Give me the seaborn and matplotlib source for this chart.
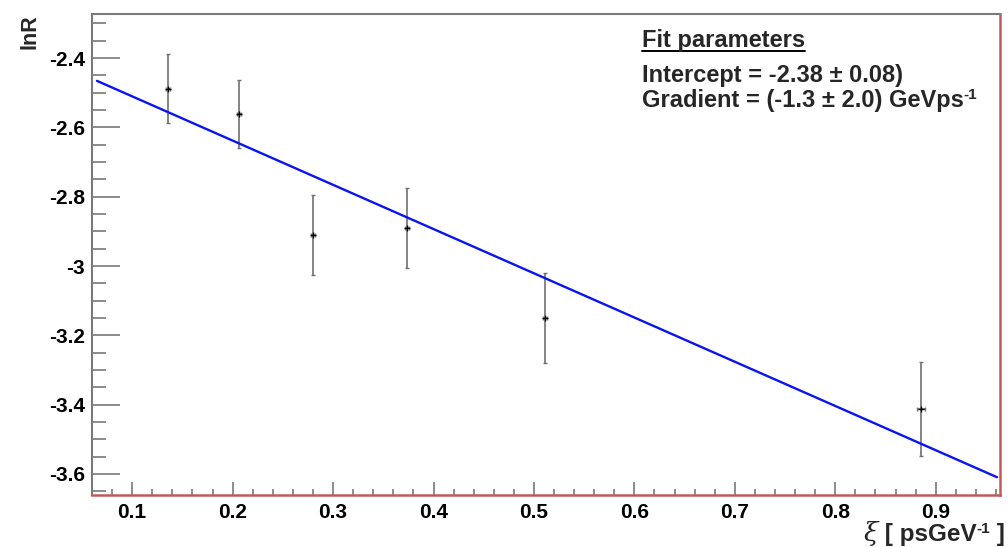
import numpy as np
import pandas as pd
import matplotlib
matplotlib.use("Agg")
import matplotlib.pyplot as plt
from matplotlib.ticker import MultipleLocator
from matplotlib.lines import Line2D
import seaborn as sns

# Measured points: xi [ps/GeV] and ln R with their uncertainties
xi = [0.136, 0.206, 0.280, 0.374, 0.511, 0.885]
ln_r = [-2.488, -2.562, -2.911, -2.890, -3.150, -3.412]
ln_r_err = [0.099, 0.098, 0.116, 0.116, 0.130, 0.136]
xi_err = [0.002, 0.002, 0.002, 0.002, 0.002, 0.004]

# Straight-line fit results
intercept, intercept_err = -2.383, 0.08
gradient, gradient_err = -1.276, 2.0
fit_range = (0.065, 0.961)

x_ticks = [0.1, 0.2, 0.3, 0.4, 0.5, 0.6, 0.7, 0.8, 0.9]
y_ticks = [-3.6, -3.4, -3.2, -3.0, -2.8, -2.6, -2.4]

W, H = 1008, 547

sns.set_theme(style="white")
plt.rcParams["font.family"] = ["Liberation Sans", "DejaVu Sans"]
plt.rcParams["font.weight"] = "bold"

fig = plt.figure(figsize=(W / 100, H / 100), dpi=100)
ax = fig.add_axes([92 / W, 1 - 495 / H, 908 / W, 481 / H])

data = pd.DataFrame({"xi": xi, "lnR": ln_r})
fit_x = np.linspace(fit_range[0], fit_range[1], 200)
fit = pd.DataFrame({"xi": fit_x, "lnR": intercept + gradient * fit_x})

ax.errorbar(xi, ln_r, yerr=ln_r_err, xerr=xi_err, fmt="none",
            ecolor="#707070", elinewidth=1.2, capsize=1.5, capthick=1.0, zorder=2)
sns.scatterplot(data=data, x="xi", y="lnR", marker="+", color="black",
                s=25, linewidth=1.0, ax=ax, zorder=3)
sns.lineplot(data=fit, x="xi", y="lnR", color="#0a14f0", linewidth=1.7,
             ax=ax, zorder=4)

ax.set_xlim(0.06, 0.964)
ax.set_ylim(-3.6606, -2.273)

ax.set_xticks(x_ticks)
ax.set_xticklabels([f"{v:g}" for v in x_ticks])
ax.set_yticks(y_ticks)
ax.set_yticklabels([f"{v:g}" for v in y_ticks])
ax.xaxis.set_minor_locator(MultipleLocator(0.02))
ax.yaxis.set_minor_locator(MultipleLocator(0.05))

ax.tick_params(axis="both", which="both", direction="in", color="#8c8c8c",
               width=1.4, labelsize=15, labelcolor="black")
ax.tick_params(axis="x", which="major", length=9.5, pad=6)
ax.tick_params(axis="x", which="minor", length=4.5)
ax.tick_params(axis="y", which="major", length=20, pad=5)
ax.tick_params(axis="y", which="minor", length=10)
ax.tick_params(bottom=True, left=True, top=False, right=False, which="both")
for lbl in ax.get_xticklabels() + ax.get_yticklabels():
    lbl.set_fontweight("bold")

for side in ["left", "top"]:
    ax.spines[side].set_color("#7a7a7a")
    ax.spines[side].set_linewidth(1.5)
for side in ["bottom", "right"]:
    ax.spines[side].set_color("#c05a5a")
    ax.spines[side].set_linewidth(1.8)

ax.set_xlabel("")
ax.set_ylabel("")

renderer = fig.canvas.get_renderer()


def text_run(pieces, x_px, y_px, align="left"):
    """Lay out text pieces side by side on one baseline (pixel coords from top-left)."""
    made = []
    x = x_px
    for s, kw, dy in pieces:
        t = fig.text(x / W, (H - y_px + dy) / H, s, ha="left", va="baseline", **kw)
        x += t.get_window_extent(renderer).width
        made.append(t)
    if align == "right":
        shift = x - x_px
        for t in made:
            t.set_x(t.get_position()[0] - shift / W)
    return made


fig.text(30 / W, 1 - 14 / H, "lnR", rotation=90, ha="center", va="top",
         fontsize=15.5, fontweight="bold")

base = dict(fontsize=17.5, fontweight="bold")
sup = dict(fontsize=11, fontweight="bold")
greek = dict(fontsize=19, family=["DejaVu Serif"], style="italic", fontweight="normal")
text_run([("\u03be", greek, 0), (" [ psGeV", base, 0), ("-1", sup, 8), (" ]", base, 0)],
         1005, 541, align="right")

fs = 17
fit_kw = dict(fontsize=fs, fontweight="bold")
title = fig.text(642 / W, 1 - 47 / H, "Fit parameters", ha="left",
                 va="baseline", **fit_kw)
text_run([(f"Intercept = {intercept:.2f} \u00b1 {intercept_err:.2f})", fit_kw, 0)],
         642, 82)
text_run([(f"Gradient = ({gradient:.1f} \u00b1 {gradient_err:.1f}) GeVps", fit_kw, 0),
          ("-1", dict(fontsize=11, fontweight="bold"), 8)],
         642, 107)

bb = title.get_window_extent(renderer).transformed(fig.transFigure.inverted())
uy = 1 - 51 / H
fig.add_artist(Line2D([bb.x0, bb.x1], [uy, uy], transform=fig.transFigure,
                      color="black", linewidth=1.4))

fig.savefig("out.png", dpi=100)
